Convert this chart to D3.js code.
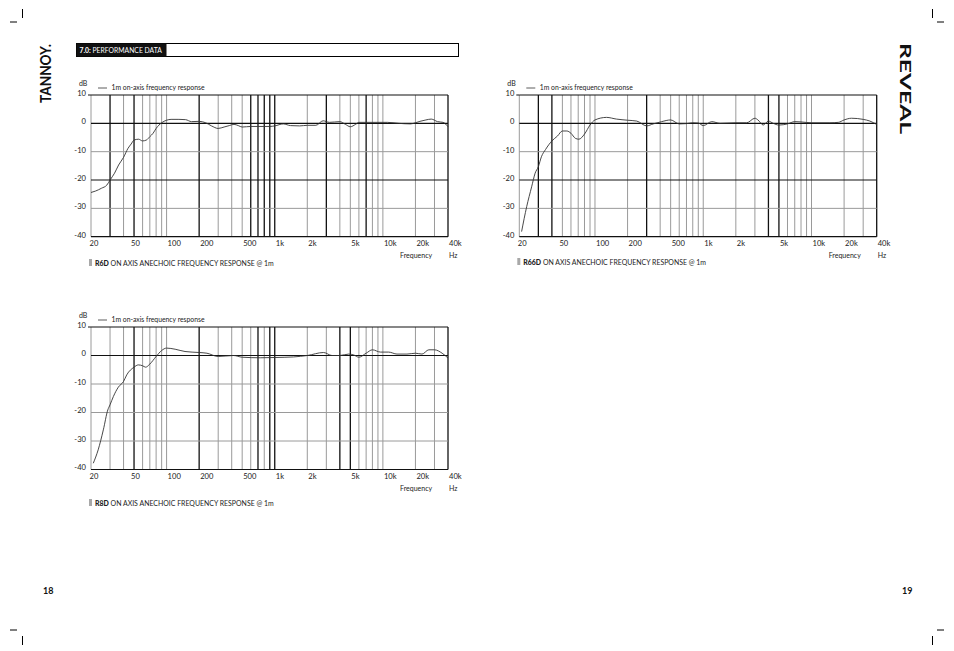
<!DOCTYPE html>
<html><head><meta charset="utf-8">
<script src="https://cdn.jsdelivr.net/npm/d3@7/dist/d3.min.js"></script>
<style>
html,body{margin:0;padding:0;background:#fff;}
svg{display:block;}
text{font-family:Lato,"Open Sans",sans-serif;}
</style></head><body>
<svg id="page" width="954" height="651"></svg>
<script>
// ---------- data ----------
const freqTicks = [20,50,100,200,500,1000,2000,5000,10000,20000,40000];
const freqTickLabels = ["20","50","100","200","500","1k","2k","5k","10k","20k","40k"];
const dbTicks = [10,0,-10,-20,-30,-40];
const dbTickLabels = ["10","0","-10","-20","-30","-40"];
const gridFreqs = [20,30,40,50,60,70,80,90,100,200,300,400,500,600,700,800,900,1000,2000,3000,4000,5000,6000,7000,8000,9000,10000,20000,30000,40000];

const r6dFreq = [20,22,25,28,30,33,36,40,44,47,50,55,60,65,70,75,80,90,100,110,130,150,170,200,230,260,300,340,380,420,460,500,600,700,900,1000,1200,1400,1700,2000,2400,2800,3200,4000,4500,5000,5600,6000,7000,9000,11000,14000,18000,20000,22000,25000,28000,32000,36000,40000];
const r6dDb = [-24.4,-23.9,-22.9,-21.8,-20,-17.6,-14.7,-12,-8.8,-7.3,-5.9,-5.6,-6.2,-5.9,-4.7,-3.5,-1.8,0.2,1.1,1.4,1.4,1.3,0.6,0.7,0.2,-0.9,-1.8,-1.3,-0.8,-0.35,-0.8,-1.3,-1.1,-1.1,-1.1,-0.9,-0.2,-0.8,-0.9,-0.7,-0.7,0.9,0.35,0.6,-0.35,-1.2,-0.35,0.35,0.35,0.35,0.35,0,-0.2,0.2,0.7,1.2,1.5,0.6,0.35,-1.2];
const r6dDarkV = [30,50,200,600,700,800,900,1000,3000,7000,40000];
const r6dDarkH = [10,0,-20,-40];

const r66dFreq = [21,23.4,26,28,30,32,35,40,45,50,55,60,66,71,80,90,100,128,158,200,243,300,345,413,500,600,700,800,900,1000,1200,1430,2000,2520,3000,3200,3580,4000,4430,5000,6000,7000,8000,10000,14800,17700,20000,23400,30000,34600,40000];
const r66dDb = [-38.2,-29.4,-22.4,-17.6,-15.3,-11.8,-9.2,-6.2,-4.5,-2.7,-2.7,-3.5,-5.3,-5.6,-3.8,-0.6,1.2,2.1,1.5,1.1,0.8,-0.9,-0.2,0.6,1.2,-0.2,-0.1,0.2,0.1,-0.8,0.6,0,0.2,0.2,1.8,1.2,-0.6,0.8,0,-0.6,-0.2,0.6,0.5,0.2,0.2,0.35,1.2,1.8,1.4,0.8,-0.4];
const r66dDarkV = [30,40,300,4000,5000,40000];
const r66dDarkH = [10,0,-20,-40];

const r8dFreq = [21,23.3,26,28.6,30,32.2,35.8,40,42.8,50,54.8,60,64,70,80,90,100,120,148,200,236,300,416,500,734,1000,1490,2000,2830,3380,4000,4830,5370,6000,7000,8000,9500,11300,13500,16700,20000,23000,26600,30000,35300,40000];
const r8dDb = [-37.8,-33.1,-26.1,-19.1,-17.3,-14.4,-11.1,-9.1,-6.8,-4.1,-3.3,-3.6,-4.1,-3.0,-0.35,1.75,2.6,2.2,1.4,1.05,0.8,-0.35,0,-0.6,-0.8,-0.7,-0.5,0,1.05,0,0,0.5,0.2,-0.6,0.8,2.0,1.2,1.2,0.5,0.5,0.8,0.5,2.0,2.0,0.8,-0.9];
const r8dDarkV = [50,200,700,900,1000,4000,5000,40000];
const r8dDarkH = [10,0,-40];

const legendText = "1m on-axis frequency response";
const captionText = " ON AXIS ANECHOIC FREQUENCY RESPONSE @ 1m";

// ---------- layout ----------
const charts = [
  {name:"R6D", freq:r6dFreq, db:r6dDb, darkV:r6dDarkV, darkH:r6dDarkH, x0:91, x1:448, y0:95, y1:236.7, capY:265.5},
  {name:"R66D", freq:r66dFreq, db:r66dDb, darkV:r66dDarkV, darkH:r66dDarkH, x0:519.3, x1:876.7, y0:95, y1:236.7, capY:264.5},
  {name:"R8D", freq:r8dFreq, db:r8dDb, darkV:r8dDarkV, darkH:r8dDarkH, x0:91, x1:448, y0:327, y1:469.5, capY:505.5}
];

const svg = d3.select("#page");

// crop marks
const marks = [[10,22,17,22],[22.5,9,22.5,18],[937,22,944,22],[932.5,9,932.5,18],
               [10,630,17,630],[22.5,636,22.5,645],[937,630,944,630],[932.5,636,932.5,645]];
svg.selectAll("line.crop").data(marks).enter().append("line")
  .attr("x1",d=>d[0]).attr("y1",d=>d[1]).attr("x2",d=>d[2]).attr("y2",d=>d[3])
  .attr("stroke","#000").attr("stroke-width",1);

// header bar
svg.append("rect").attr("x",76.5).attr("y",43.5).attr("width",382).attr("height",13)
  .attr("fill","none").attr("stroke","#000").attr("stroke-width",1);
svg.append("rect").attr("x",76.5).attr("y",43.5).attr("width",90).attr("height",13).attr("fill","#111");
const ht = svg.append("text").attr("x",79.5).attr("y",52.6).attr("fill","#fff").attr("font-size",6.8);
ht.append("tspan").attr("font-weight","bold").text("7.0:");
ht.append("tspan").text(" PERFORMANCE DATA");

// logos
svg.append("text").attr("transform","translate(51,103) rotate(-90)")
  .attr("font-family","'DejaVu Sans'").attr("font-weight","bold").attr("font-size",15.5)
  .attr("textLength",59).attr("lengthAdjust","spacingAndGlyphs").attr("fill","#111").text("TANNOY.");
svg.append("text").attr("transform","translate(900,43) rotate(90)")
  .attr("font-family","'DejaVu Sans'").attr("font-weight","bold").attr("font-size",14.5)
  .attr("textLength",91).attr("lengthAdjust","spacingAndGlyphs").attr("fill","#111").text("REVEAL");

// page numbers
svg.append("text").attr("x",43).attr("y",593.5).attr("font-family","'DejaVu Sans Condensed'")
  .attr("font-weight","bold").attr("font-size",9).attr("fill","#111").text("18");
svg.append("text").attr("x",902).attr("y",593.5).attr("font-family","'DejaVu Sans Condensed'")
  .attr("font-weight","bold").attr("font-size",9).attr("fill","#111").text("19");

// charts
charts.forEach(c => {
  const g = svg.append("g");
  const x = d3.scaleLog().domain([20,40000]).range([c.x0,c.x1]);
  const y = d3.scaleLinear().domain([-40,10]).range([c.y1,c.y0]);
  const isDarkV = f => c.darkV.includes(f);
  const isDarkH = d => c.darkH.includes(d);

  const vs = gridFreqs.slice().sort((a,b)=>isDarkV(a)-isDarkV(b));
  g.selectAll("line.v").data(vs).enter().append("line")
    .attr("x1",d=>x(d)).attr("x2",d=>x(d)).attr("y1",c.y0).attr("y2",c.y1)
    .attr("stroke",d=>isDarkV(d)?"#111":"#9a9a9a").attr("stroke-width",d=>isDarkV(d)?1.3:1);
  const hs = dbTicks.slice().sort((a,b)=>isDarkH(a)-isDarkH(b));
  g.selectAll("line.h").data(hs).enter().append("line")
    .attr("x1",c.x0).attr("x2",c.x1).attr("y1",d=>y(d)).attr("y2",d=>y(d))
    .attr("stroke",d=>isDarkH(d)?"#111":"#9a9a9a").attr("stroke-width",d=>isDarkH(d)?1.2:1);
  g.append("line").attr("x1",c.x0-3).attr("x2",c.x0).attr("y1",y(10)).attr("y2",y(10)).attr("stroke","#111");

  // y axis labels
  const ya = g.append("g").attr("transform",`translate(${c.x0-5},-2)`)
    .call(d3.axisLeft(y).tickValues(dbTicks).tickSize(0).tickPadding(0).tickFormat((d,i)=>dbTickLabels[i]));
  ya.select(".domain").remove();
  ya.selectAll("text").attr("font-family","Lato").attr("font-size",7.6).attr("fill","#222");

  // x axis labels
  const xa = g.append("g").attr("transform",`translate(0,${c.y1+4})`)
    .call(d3.axisBottom(x).tickValues(freqTicks).tickSize(0).tickPadding(0).tickFormat((d,i)=>freqTickLabels[i]));
  xa.select(".domain").remove();
  xa.selectAll("text").attr("font-family","Lato").attr("font-size",7.6).attr("fill","#222")
    .attr("text-anchor","start").attr("dx",(d,i)=> i===0? -2 : (i===1? -3.5 : 0.5));

  g.append("text").attr("x",c.x1-48).attr("y",c.y1+21).attr("font-size",7).attr("fill","#222").text("Frequency");
  g.append("text").attr("x",c.x1+1).attr("y",c.y1+21).attr("font-size",7).attr("fill","#222").text("Hz");

  // dB label and legend
  g.append("text").attr("x",c.x0-12).attr("y",c.y0-9).attr("font-size",7).attr("fill","#222").text("dB");
  g.append("line").attr("x1",c.x0+7).attr("x2",c.x0+16).attr("y1",c.y0-7).attr("y2",c.y0-7)
    .attr("stroke","#333").attr("stroke-width",0.8);
  g.append("text").attr("x",c.x0+20.5).attr("y",c.y0-4.8).attr("font-size",6.8).attr("fill","#222").text(legendText);

  // curve
  const pts = c.freq.map((f,i)=>[f,c.db[i]]);
  g.append("path").datum(pts)
    .attr("d",d3.line().x(d=>x(d[0])).y(d=>y(d[1])).curve(d3.curveMonotoneX))
    .attr("fill","none").attr("stroke","#333").attr("stroke-width",0.9);

  // caption
  g.append("rect").attr("x",c.x0-2).attr("y",c.capY-6.5).attr("width",3).attr("height",7).attr("fill","#a8a8a8");
  const ct = g.append("text").attr("x",c.x0+4).attr("y",c.capY).attr("font-size",6.95).attr("fill","#222");
  ct.append("tspan").attr("font-weight","900").text(c.name);
  ct.append("tspan").text(captionText);
});
</script>
</body></html>
